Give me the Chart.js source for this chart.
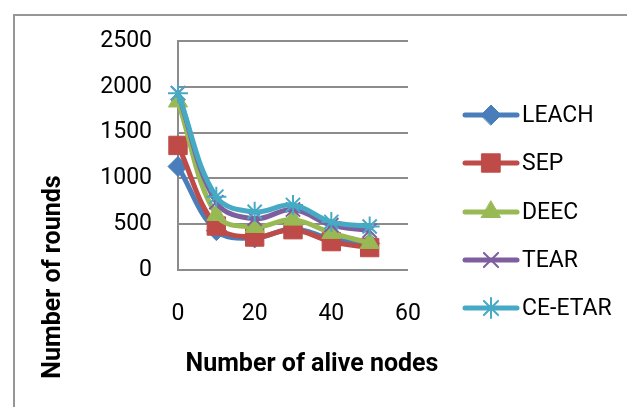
<!DOCTYPE html>
<html>
<head>
<meta charset="utf-8">
<script src="https://cdn.jsdelivr.net/npm/chart.js@4/dist/chart.umd.min.js"></script>
<style>
  html, body { margin: 0; padding: 0; background: #fff; }
  #wrap { position: relative; width: 627px; height: 407px; overflow: hidden; }
  #frame { position: absolute; left: 13px; top: 14px; width: 700px; height: 500px; border: 2px solid #969696; box-sizing: border-box; }
  canvas { position: absolute; left: 0; top: 0; }
</style>
</head>
<body>
<div id="wrap">
  <div id="frame"></div>
  <canvas id="chart" width="627" height="407"></canvas>
</div>
<script>
// ── Data ─────────────────────────────────────────────
const aliveNodes = [0, 10, 20, 30, 40, 50];
const leach   = [1130, 430, 350, 450, 340, 290];
const sep     = [1360, 480, 360, 440, 310, 245];
const deec    = [1840, 600, 470, 550, 405, 295];
const tear    = [1930, 740, 560, 660, 490, 430];
const ceEtar  = [1930, 800, 635, 710, 525, 475];
const seriesNames = ['LEACH', 'SEP', 'DEEC', 'TEAR', 'CE-ETAR'];
const xTicks = [0, 20, 40, 60];
const yTicks = [0, 500, 1000, 1500, 2000, 2500];

const colors  = ['#4a7ebb', '#be4b48', '#98b954', '#7d5fa0', '#46aac5'];
const markers = ['rectRot', 'rect', 'triangle', 'crossRot', 'star'];
const radii   = [10, 13, 11, 10, 10];
const fontFam = 'Roboto, "Liberation Sans", sans-serif';

const pts = vals => aliveNodes.map((x, i) => ({ x: x, y: vals[i] }));
const allSeries = [leach, sep, deec, tear, ceEtar];

const datasets = allSeries.map((vals, i) => ({
    label: seriesNames[i],
    data: pts(vals),
    borderColor: colors[i],
    backgroundColor: colors[i],
    borderWidth: 5,
    pointStyle: markers[i],
    pointRadius: radii[i],
    pointBorderWidth: (markers[i] === 'crossRot' || markers[i] === 'star') ? 2 : 1,
    pointBackgroundColor: colors[i],
    pointBorderColor: colors[i],
    tension: 0.38,
    clip: false,
    order: 5 - i,
}));

// ── Titles + legend drawn by hand (Excel layout) ─────
const decor = {
    id: 'decor',
    afterDraw(chart) {
        const ctx = chart.ctx;
        ctx.save();
        ctx.fillStyle = '#000';
        ctx.font = 'bold 25px ' + fontFam;
        ctx.textAlign = 'center';
        ctx.textBaseline = 'middle';
        ctx.fillText('Number of alive nodes', 312, 365);
        ctx.translate(54, 277);
        ctx.rotate(-Math.PI / 2);
        ctx.fillText('Number of rounds', 0, 0);
        ctx.restore();

        // legend
        ctx.save();
        const rowY = [115, 163, 212, 260, 308];
        chart.data.datasets.forEach((ds, i) => {
            const y = rowY[i];
            ctx.strokeStyle = ds.borderColor;
            ctx.lineWidth = 5;
            ctx.lineCap = 'round';
            ctx.beginPath();
            ctx.moveTo(465, y);
            ctx.lineTo(517, y);
            ctx.stroke();
            ctx.fillStyle = ds.pointBackgroundColor;
            ctx.strokeStyle = ds.pointBorderColor;
            ctx.lineWidth = ds.pointBorderWidth;
            Chart.helpers.drawPoint(ctx, { pointStyle: ds.pointStyle, radius: ds.pointRadius, borderWidth: ds.pointBorderWidth, rotation: 0 }, 491, y);
            ctx.fillStyle = '#000';
            ctx.font = '23px ' + fontFam;
            ctx.textAlign = 'left';
            ctx.textBaseline = 'middle';
            ctx.fillText(ds.label, 522, y + 1);
        });
        ctx.restore();
    }
};

new Chart(document.getElementById('chart'), {
    type: 'line',
    data: { datasets: datasets },
    plugins: [decor],
    options: {
        responsive: false,
        animation: false,
        layout: { padding: { left: 10, right: 219, top: 41, bottom: 20 } },
        plugins: { legend: { display: false }, tooltip: { enabled: false } },
        scales: {
            x: {
                type: 'linear',
                min: 0, max: 60,
                afterBuildTicks: s => { s.ticks = xTicks.map(v => ({ value: v })); },
                grid: { display: false, drawTicks: false },
                border: { display: false },
                ticks: { padding: 30, color: '#000', font: { family: fontFam, size: 23 }, callback: v => String(v) },
                afterFit: s => { s.height = 117; },
            },
            y: {
                min: 0, max: 2500,
                afterBuildTicks: s => { s.ticks = yTicks.map(v => ({ value: v })); },
                grid: { color: '#8c8c8c', lineWidth: 2, drawTicks: false },
                border: { display: true, color: '#8c8c8c', width: 2 },
                ticks: { padding: 26, color: '#000', font: { family: fontFam, size: 23 }, callback: v => String(v) },
                afterFit: s => { s.width = 168; },
            }
        }
    }
});
</script>
</body>
</html>
